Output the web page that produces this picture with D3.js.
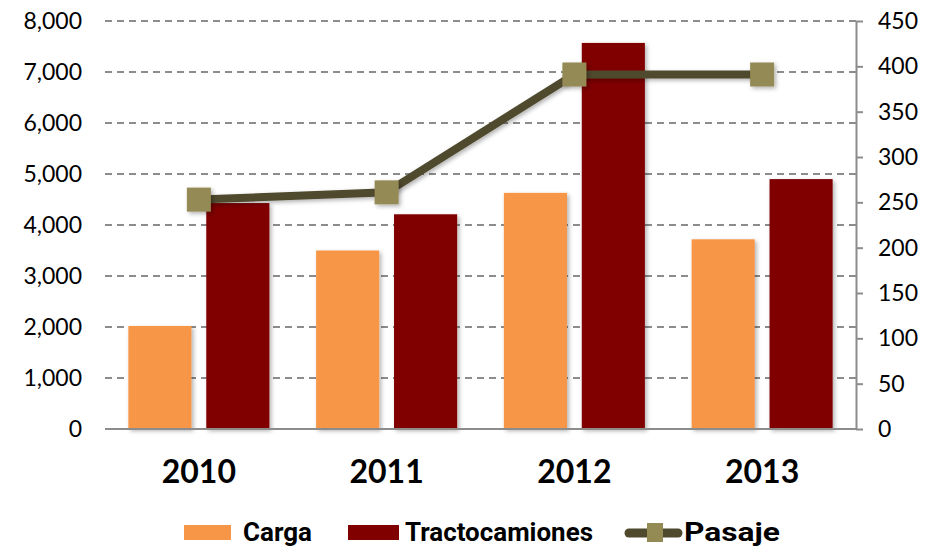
<!DOCTYPE html>
<html>
<head>
<meta charset="utf-8">
<script src="https://cdn.jsdelivr.net/npm/d3@7"></script>
<style>
  body { margin: 0; background: #fff; }
  .tick text { font-family: "Lato", "DejaVu Sans", sans-serif; font-size: 23px; fill: #000; }
  .year { font-family: "Lato", "DejaVu Sans", sans-serif; font-size: 32px; font-weight: bold; fill: #000; }
  .legtext { font-family: "Liberation Sans Narrow", "Roboto", sans-serif; font-size: 25px; font-weight: bold; fill: #000; }
</style>
</head>
<body>
<div id="chart"></div>
<script>
var years = ["2010", "2011", "2012", "2013"];
var carga = [2020, 3500, 4630, 3720];
var tracto = [4430, 4210, 7570, 4900];
var pasaje = [253, 261, 391, 391];
var leftTicks = [0, 1000, 2000, 3000, 4000, 5000, 6000, 7000, 8000];
var rightTicks = [0, 50, 100, 150, 200, 250, 300, 350, 400, 450];

var margin = { top: 21, right: 82, bottom: 117, left: 105 },
  width = 938 - margin.left - margin.right,
  height = 546 - margin.top - margin.bottom;

var svg = d3.select("#chart").append("svg")
  .attr("width", 938)
  .attr("height", 546);

var defs = svg.append("defs");
var f = defs.append("filter").attr("id", "shadow")
  .attr("x", "-20%").attr("y", "-20%").attr("width", "150%").attr("height", "150%");
f.append("feDropShadow")
  .attr("dx", 2).attr("dy", 2).attr("stdDeviation", 2)
  .attr("flood-color", "#000").attr("flood-opacity", 0.3);

var g = svg.append("g")
  .attr("transform", "translate(" + margin.left + "," + margin.top + ")");

var x0 = d3.scaleBand().domain(years).range([0, width]);
var x1 = d3.scaleBand().domain(["Carga", "Tractocamiones"])
  .range([0, x0.bandwidth()])
  .paddingInner(0.19)
  .paddingOuter(0.3);
var y = d3.scaleLinear().domain([0, 8000]).range([height, 0]);
var y2 = d3.scaleLinear().domain([0, 450]).range([height, 0]);

// grid lines
g.append("g")
  .selectAll("line")
  .data(leftTicks.slice(1))
  .enter().append("line")
  .attr("x1", 0)
  .attr("x2", width)
  .attr("y1", function(d) { return y(d); })
  .attr("y2", function(d) { return y(d); })
  .attr("stroke", "#8c8c8c")
  .attr("stroke-width", 2)
  .attr("stroke-dasharray", "7,5");

// left axis
var yAxis = g.append("g")
  .call(d3.axisLeft(y).tickValues(leftTicks).tickFormat(d3.format(",")).tickSize(0).tickPadding(23));
yAxis.select(".domain").remove();

// right axis
var y2Axis = g.append("g")
  .attr("transform", "translate(" + width + ",0)")
  .call(d3.axisRight(y2).tickValues(rightTicks).tickSize(7).tickSizeOuter(0).tickPadding(15));
y2Axis.select(".domain").attr("stroke", "#8c8c8c").attr("stroke-width", 2);
y2Axis.selectAll(".tick line").attr("stroke", "#8c8c8c").attr("stroke-width", 2);

// bars
var groups = g.selectAll(".grp")
  .data(years)
  .enter().append("g")
  .attr("transform", function(d) { return "translate(" + x0(d) + ",0)"; });

groups.append("rect")
  .attr("x", x1("Carga"))
  .attr("width", x1.bandwidth())
  .attr("y", function(d, i) { return y(carga[i]); })
  .attr("height", function(d, i) { return height - y(carga[i]); })
  .attr("fill", "#f79646")
  .attr("filter", "url(#shadow)");

groups.append("rect")
  .attr("x", x1("Tractocamiones"))
  .attr("width", x1.bandwidth())
  .attr("y", function(d, i) { return y(tracto[i]); })
  .attr("height", function(d, i) { return height - y(tracto[i]); })
  .attr("fill", "#800000")
  .attr("filter", "url(#shadow)");

// baseline
g.append("line")
  .attr("x1", 0).attr("x2", width)
  .attr("y1", height).attr("y2", height)
  .attr("stroke", "#8c8c8c")
  .attr("stroke-width", 2);

// Pasaje line
var line = d3.line()
  .x(function(d, i) { return x0(years[i]) + x0.bandwidth() / 2; })
  .y(function(d) { return y2(d); });

g.append("path")
  .datum(pasaje)
  .attr("fill", "none")
  .attr("stroke", "#4f4a2e")
  .attr("stroke-width", 8)
  .attr("filter", "url(#shadow)")
  .attr("d", line);

g.selectAll(".mk")
  .data(pasaje)
  .enter().append("rect")
  .attr("x", function(d, i) { return x0(years[i]) + x0.bandwidth() / 2 - 12; })
  .attr("y", function(d) { return y2(d) - 12; })
  .attr("width", 24)
  .attr("height", 24)
  .attr("fill", "#948a54")
  .attr("filter", "url(#shadow)");

// year labels
g.selectAll(".year")
  .data(years)
  .enter().append("text")
  .attr("class", "year")
  .attr("x", function(d) { return x0(d) + x0.bandwidth() / 2; })
  .attr("y", height + 54)
  .attr("text-anchor", "middle")
  .text(function(d) { return d; });

// legend
var leg = svg.append("g").attr("transform", "translate(0,525)");
leg.append("rect").attr("x", 184).attr("y", 0).attr("width", 47).attr("height", 15).attr("fill", "#f79646");
leg.append("text").attr("class", "legtext").attr("x", 243).attr("y", 16)
  .attr("textLength", 69).attr("lengthAdjust", "spacingAndGlyphs").text("Carga");
leg.append("rect").attr("x", 348).attr("y", 0).attr("width", 51).attr("height", 15).attr("fill", "#800000");
leg.append("text").attr("class", "legtext").attr("x", 405).attr("y", 16)
  .attr("textLength", 188).attr("lengthAdjust", "spacingAndGlyphs").text("Tractocamiones");
leg.append("line").attr("x1", 629).attr("x2", 678).attr("y1", 8).attr("y2", 8)
  .attr("stroke", "#4f4a2e").attr("stroke-width", 9).attr("stroke-linecap", "round");
leg.append("rect").attr("x", 647).attr("y", -2).attr("width", 16).attr("height", 19).attr("fill", "#948a54");
leg.append("text").attr("class", "legtext").attr("x", 684).attr("y", 16)
  .attr("textLength", 96).attr("lengthAdjust", "spacingAndGlyphs").text("Pasaje");
</script>
</body>
</html>
